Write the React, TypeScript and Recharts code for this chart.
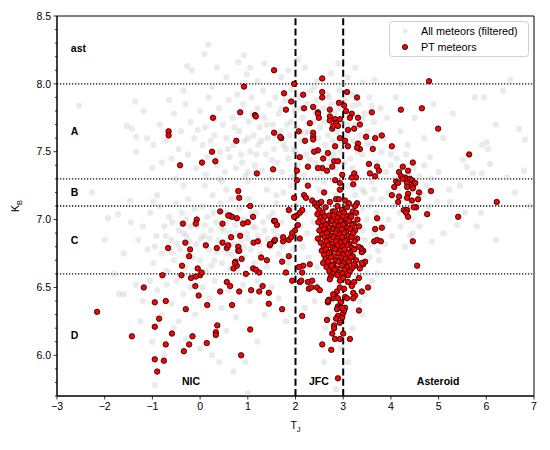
import React from 'react';
import { ScatterChart, Scatter, XAxis, YAxis, ReferenceLine, ReferenceArea, Legend } from 'recharts';

// grey background population (T_J, K_B)
const allMeteors: number[][] = [
  // sparse top
  [0.17, 8.29], [0.09, 8.22], [-0.27, 8.13], [-0.17, 8.1], [0.8, 8.16], [0.92, 8.21], [0.98, 8.07], [1.35, 8.15],
  [1.7, 8.05], [2.2, 8.12], [2.45, 8.02], [2.75, 8.08], [3.1, 8.05], [3.25, 8.12], [3.4, 8.01], [3.65, 8.03],
  [1.2, 8.02], [0.55, 8.05], [0.35, 8.12], [2.05, 8.18], [2.9, 8.15], [4.2, 8.0], [6.5, 8.03], [-2.54, 7.84],
  [1.85, 8.1], [1.05, 8.12],
  // cloud A, left part
  [-1.36, 7.87], [-1.18, 7.8], [-1.53, 7.69], [-1.43, 7.67], [-1.34, 7.61], [-1.11, 7.6], [-1.34, 7.5], [-0.98, 7.55],
  [-0.85, 7.7], [-0.72, 7.58], [-0.6, 7.45], [-0.55, 7.78], [-0.45, 7.52], [-0.4, 7.65], [-0.3, 7.85], [-0.25, 7.48],
  [-0.2, 7.72], [-0.12, 7.6], [-0.08, 7.38], [0.0, 7.8], [0.05, 7.55], [0.1, 7.68], [0.12, 7.33], [0.18, 7.9],
  [0.22, 7.58], [0.3, 7.62], [0.35, 7.4], [0.4, 7.82], [0.42, 7.5], [0.48, 7.7], [0.52, 7.35], [0.55, 7.6],
  [0.6, 7.88], [0.62, 7.46], [0.68, 7.75], [0.7, 7.55], [0.75, 7.38], [0.78, 7.92], [0.82, 7.65], [0.86, 7.48],
  [0.9, 7.85], [0.93, 7.58], [0.95, 7.32], [-0.8, 7.42], [-1.0, 7.38], [-0.5, 7.3], [-0.35, 7.95], [0.25, 7.98],
  [-0.65, 7.88], [0.45, 7.28],
  // cloud A, right part
  [1.02, 7.72], [1.05, 7.5], [1.08, 7.9], [1.12, 7.62], [1.15, 7.4], [1.2, 7.82], [1.22, 7.55], [1.25, 7.68],
  [1.3, 7.36], [1.32, 7.95], [1.35, 7.75], [1.38, 7.48], [1.42, 7.6], [1.45, 7.85], [1.48, 7.3], [1.52, 7.7],
  [1.55, 7.52], [1.58, 7.9], [1.62, 7.42], [1.65, 7.78], [1.68, 7.65], [1.72, 7.35], [1.75, 7.55], [1.78, 7.88],
  [1.82, 7.7], [1.85, 7.45], [1.88, 7.62], [1.92, 7.96], [1.95, 7.52], [1.98, 7.8], [2.02, 7.68], [2.05, 7.4],
  [2.08, 7.9], [2.12, 7.58], [2.15, 7.75], [2.18, 7.33], [2.22, 7.48], [2.25, 7.85], [2.28, 7.65], [2.32, 7.95],
  [2.35, 7.52], [2.38, 7.72], [2.42, 7.42], [2.45, 7.88], [2.48, 7.6], [2.52, 7.68], [2.55, 7.35], [2.58, 7.82],
  [2.62, 7.55], [2.65, 7.92], [2.68, 7.62], [2.72, 7.45], [2.75, 7.85], [2.78, 7.58], [2.82, 7.78], [2.85, 7.38],
  [2.88, 7.65], [2.92, 7.95], [2.95, 7.5], [2.98, 7.72], [3.02, 7.42], [3.05, 7.88], [3.08, 7.62], [3.12, 7.78],
  [3.15, 7.45], [3.18, 7.92], [3.22, 7.58], [3.25, 7.7], [3.28, 7.35], [3.32, 7.85], [3.35, 7.62], [3.4, 7.48],
  [3.45, 7.78], [3.5, 7.65], [3.55, 7.9], [3.6, 7.55], [3.65, 7.72], [3.7, 7.42], [3.78, 7.82], [3.85, 7.6],
  [3.92, 7.75], [4.0, 7.48], [4.1, 7.9], [4.2, 7.65], [4.35, 7.55], [4.5, 7.75], [1.4, 7.22], [1.6, 7.18],
  [1.9, 7.25], [2.15, 7.2], [2.6, 7.28], [3.1, 7.25], [3.4, 7.22], [3.6, 7.28], [2.4, 7.98], [3.0, 8.0],
  // cloud A, extra fill
  [0.58, 7.52], [0.72, 7.68], [0.88, 7.42], [1.0, 7.6], [1.1, 7.78], [1.18, 7.48], [1.28, 7.58], [1.4, 7.7],
  [1.5, 7.44], [1.6, 7.62], [1.7, 7.82], [1.8, 7.52], [1.9, 7.72], [2.0, 7.5], [2.1, 7.82], [2.2, 7.64],
  [2.3, 7.44], [2.4, 7.8], [2.5, 7.5], [2.6, 7.72], [2.7, 7.9], [2.8, 7.48], [2.9, 7.82], [3.0, 7.56],
  [3.1, 7.7], [3.2, 7.84], [3.3, 7.5], [3.4, 7.74], [3.5, 7.56], [3.6, 7.84], [3.7, 7.62], [3.8, 7.5],
  [0.3, 7.74], [0.15, 7.46], [-0.05, 7.66], [0.4, 7.3], [1.0, 7.35], [1.95, 7.32], [2.45, 7.3], [3.2, 7.38],
  // right-hand scatter
  [5.76, 7.9], [5.95, 7.9], [6.69, 7.67], [5.91, 7.55], [6.04, 7.52], [6.01, 7.57], [6.81, 7.59], [6.79, 7.36],
  [6.43, 7.31], [5.91, 7.34], [5.72, 7.34], [5.59, 7.39], [5.24, 7.13], [5.22, 7.22], [4.97, 7.13], [5.89, 7.05],
  [6.08, 7.41], [5.51, 7.44], [4.82, 7.46], [5.1, 7.6], [5.3, 7.78], [4.7, 7.6], [5.45, 7.25], [6.2, 7.7],
  [6.6, 7.2], [5.0, 7.35], [4.9, 7.85], [6.35, 7.95], [5.55, 7.05], [6.9, 7.1], [5.8, 6.95], [5.39, 6.96],
  [6.2, 6.85], [4.86, 6.84], [5.1, 6.9],
  // asteroid cluster
  [3.9, 7.35], [3.95, 7.2], [4.0, 7.4], [4.05, 7.1], [4.08, 7.3], [4.12, 7.45], [4.15, 7.22], [4.18, 7.05],
  [4.22, 7.38], [4.25, 7.15], [4.28, 7.28], [4.32, 7.48], [4.35, 7.1], [4.38, 7.33], [4.42, 7.2], [4.45, 7.0],
  [4.48, 7.38], [4.52, 7.25], [4.55, 7.12], [4.6, 7.32], [4.65, 7.18], [4.7, 7.4], [4.75, 7.25], [4.8, 7.1],
  [4.02, 6.88], [4.4, 6.88], [4.46, 6.9], [3.88, 6.82], [3.73, 6.77], [4.2, 6.95], [4.6, 6.95], [3.95, 7.0],
  [4.3, 6.8], [4.85, 7.3],
  // JFC cloud
  [2.05, 7.12], [2.1, 6.95], [2.15, 6.8], [2.2, 7.05], [2.25, 6.9], [2.28, 6.72], [2.32, 7.15], [2.38, 6.98],
  [2.42, 6.85], [2.45, 6.65], [2.5, 7.22], [2.55, 6.92], [2.6, 6.78], [2.65, 7.1], [2.7, 6.68], [2.75, 7.02],
  [2.8, 6.85], [2.85, 7.18], [2.9, 6.72], [2.95, 6.95], [3.0, 7.1], [3.05, 6.82], [3.1, 6.65], [3.15, 7.0],
  [3.2, 6.88], [3.25, 7.18], [3.3, 6.75], [3.35, 6.95], [3.4, 7.08], [3.45, 6.85], [3.5, 7.0], [3.55, 6.72],
  [3.6, 7.15], [3.65, 6.9], [3.7, 7.05], [3.75, 6.7], [3.8, 7.15], [3.85, 6.95], [3.5, 6.6], [3.6, 6.55],
  [3.3, 6.55], [3.45, 6.45], [2.7, 6.28], [2.62, 6.2], [2.4, 6.4], [2.2, 6.35], [3.4, 6.3], [3.2, 6.2],
  [2.95, 6.05], [3.1, 5.95], [2.6, 5.95], [2.85, 5.75],
  [3.45, 7.2], [3.55, 7.1], [3.65, 7.22], [3.75, 7.0], [3.42, 6.92], [3.58, 6.82], [3.7, 6.6], [3.35, 6.4],
  // NIC cloud
  [-1.2, 6.95], [-1.1, 6.78], [-1.05, 7.05], [-0.98, 6.68], [-0.92, 6.88], [-0.85, 7.1], [-0.8, 6.75], [-0.75, 6.95],
  [-0.7, 6.62], [-0.65, 7.02], [-0.6, 6.85], [-0.55, 6.7], [-0.5, 7.12], [-0.45, 6.92], [-0.42, 6.78], [-0.38, 7.05],
  [-0.32, 6.65], [-0.28, 6.88], [-0.25, 7.15], [-0.2, 6.95], [-0.15, 6.72], [-0.12, 7.08], [-0.08, 6.82], [-0.05, 6.95],
  [0.0, 6.7], [0.05, 7.1], [0.08, 6.88], [0.12, 6.62], [0.15, 7.02], [0.18, 6.78], [0.22, 6.92], [0.26, 7.18],
  [0.3, 6.7], [0.34, 6.98], [0.38, 6.85], [0.42, 7.12], [0.46, 6.68], [0.5, 6.92], [0.54, 7.05], [0.58, 6.75],
  [0.62, 6.9], [0.66, 7.15], [0.7, 6.82], [0.74, 6.96], [0.78, 6.62], [0.82, 7.08], [0.86, 6.85], [0.9, 6.72],
  [0.94, 7.0], [0.98, 6.9], [1.02, 7.15], [1.06, 6.78], [1.1, 6.95], [1.14, 6.68], [1.18, 7.05], [1.22, 6.88],
  [1.26, 6.75], [1.3, 7.1], [1.35, 6.92], [1.4, 6.65], [1.45, 7.02], [1.5, 6.8], [1.55, 6.92], [1.6, 7.12],
  [1.65, 6.75], [1.7, 6.98], [1.75, 7.2], [1.8, 6.85], [1.85, 6.68], [1.9, 7.05], [1.95, 6.78], [-0.35, 7.25],
  [0.1, 7.25], [0.55, 7.22], [1.0, 7.28], [-0.9, 7.18], [-1.3, 6.85], [-1.45, 6.98], [-1.6, 6.75], [-1.72, 7.04],
  [-1.93, 7.01], [-2.27, 7.2], [-1.47, 7.14], [-0.98, 7.13], [-1.8, 6.6], [-2.0, 6.85],
  // NIC cloud, extra fill
  [-0.95, 6.8], [-0.72, 6.88], [-0.58, 6.98], [-0.48, 6.82], [-0.35, 6.9], [-0.22, 6.84], [-0.1, 6.98], [0.02, 6.86],
  [0.1, 6.96], [0.2, 6.86], [0.28, 7.05], [0.36, 6.76], [0.44, 6.94], [0.52, 6.84], [0.6, 7.0], [0.68, 6.74],
  [0.76, 6.9], [0.84, 7.0], [0.92, 6.8], [1.0, 6.86], [1.08, 7.05], [1.16, 6.94], [1.24, 6.82], [1.32, 6.98],
  [1.42, 6.86], [1.52, 7.05], [1.62, 6.88], [1.72, 6.8], [-0.6, 6.76], [-0.3, 7.0], [0.24, 6.66], [0.64, 6.64],
  // below K_B = 6.6
  [-1.6, 6.45], [-1.35, 6.52], [-1.2, 6.4], [-1.05, 6.55], [-0.9, 6.48], [-0.8, 6.3], [-0.7, 6.52], [-0.6, 6.38],
  [-0.5, 6.55], [-0.45, 6.25], [-0.35, 6.45], [-0.2, 6.5], [-0.1, 6.3], [0.05, 6.5], [0.2, 6.42], [0.3, 6.55],
  [0.45, 6.35], [0.6, 6.48], [0.75, 6.28], [0.9, 6.52], [1.05, 6.4], [1.2, 6.55], [1.35, 6.3], [1.5, 6.5],
  [1.65, 6.42], [1.8, 6.25], [-1.0, 6.1], [-0.75, 6.0], [-0.55, 6.2], [-0.3, 6.12], [0.0, 6.05], [0.25, 6.0],
  [0.55, 6.18], [0.7, 5.88], [0.95, 5.95], [1.2, 6.1], [-0.95, 5.78], [-1.25, 6.25], [-1.7, 6.45], [0.4, 5.95],
  [1.0, 5.72],
];

// red PT meteors (T_J, K_B)
const ptMeteors: number[][] = [
  // upper left
  [1.55, 8.1], [0.92, 7.98], [0.84, 7.79], [0.27, 7.75], [1.15, 7.77], [1.17, 7.76], [-0.66, 7.65], [-0.66, 7.62],
  [1.55, 7.64], [0.76, 7.58], [0.25, 7.5], [0.32, 7.43], [-0.42, 7.4], [0.04, 7.42], [1.19, 7.34], [1.53, 7.37],
  [0.8, 7.21], [0.82, 7.16], [1.05, 7.1], [0.42, 7.06], [0.62, 7.03], [0.67, 7.02], [0.77, 7.01], [1.11, 7.02],
  [-0.36, 6.97], [-0.07, 7.0], [-0.09, 6.97], [0.47, 6.97], [0.9, 6.97], [1.0, 6.98], [1.55, 6.99], [0.59, 7.03],
  // NIC
  [-0.67, 6.79], [-0.31, 6.83], [-0.21, 6.78], [-0.23, 6.73], [0.12, 6.81], [0.35, 6.79], [0.47, 6.83], [0.56, 6.79],
  [0.59, 6.81], [0.65, 6.87], [0.8, 6.8], [0.8, 6.77], [0.84, 6.88], [1.12, 6.83], [1.21, 6.84], [1.46, 6.81],
  [1.55, 6.84], [-0.38, 6.66], [-0.05, 6.64], [0.0, 6.59], [0.03, 6.61], [-0.09, 6.58], [-0.19, 6.57], [-0.39, 6.59],
  [-0.79, 6.59], [0.7, 6.64], [0.77, 6.66], [0.74, 6.69], [0.87, 6.71], [0.96, 6.6], [1.11, 6.64], [1.17, 6.63],
  [1.24, 6.61], [1.28, 6.72], [1.4, 6.7], [-1.18, 6.5], [-0.1, 6.51], [-0.03, 6.44], [-0.3, 6.34], [0.15, 6.37],
  [0.42, 6.47], [0.56, 6.54], [0.63, 6.51], [0.67, 6.37], [0.82, 6.47], [1.07, 6.48], [1.24, 6.47], [1.31, 6.51],
  [1.44, 6.46], [1.44, 6.38], [-0.95, 6.39], [-0.72, 6.4], [-2.16, 6.32], [-0.86, 6.27], [-0.95, 6.21], [-0.59, 6.16],
  [-1.43, 6.14], [-0.16, 6.14], [0.36, 6.22], [0.33, 6.17], [0.33, 6.15], [0.14, 6.09], [-0.72, 6.08], [-0.23, 6.08],
  [-0.34, 6.03], [-0.95, 5.97], [-0.76, 5.96], [-0.9, 5.88], [0.86, 6.0], [1.05, 6.19], [0.73, 6.68], [0.82, 6.77],
  // JFC upper
  [1.97, 8.0], [2.56, 8.04], [1.76, 7.93], [2.16, 7.92], [2.56, 7.94], [2.56, 7.9], [3.08, 7.94], [3.29, 7.9],
  [1.91, 7.87], [1.8, 7.81], [2.18, 7.82], [2.37, 7.83], [2.47, 7.79], [2.47, 7.78], [2.49, 7.75], [2.72, 7.81],
  [2.91, 7.86], [3.02, 7.84], [3.06, 7.8], [3.18, 7.78], [3.14, 7.75], [3.31, 7.75], [3.35, 7.7], [3.6, 7.79],
  [2.72, 7.76], [2.72, 7.73], [2.83, 7.74], [2.85, 7.71], [2.93, 7.74], [2.89, 7.69], [2.77, 7.67], [2.79, 7.69],
  [3.1, 7.66], [3.23, 7.67], [2.3, 7.71], [2.07, 7.65], [2.37, 7.64], [2.37, 7.61], [2.37, 7.59], [2.2, 7.58],
  [2.47, 7.51], [2.39, 7.5], [1.7, 7.6], [2.93, 7.6], [3.04, 7.58], [3.48, 7.61], [3.67, 7.6], [3.31, 7.56],
  [3.35, 7.52], [3.29, 7.53], [3.1, 7.54], [2.83, 7.54], [2.68, 7.49], [2.58, 7.45], [2.81, 7.43], [2.77, 7.39],
  [2.66, 7.36], [2.56, 7.38], [2.47, 7.38], [2.89, 7.43], [2.26, 7.39], [2.09, 7.46], [3.62, 7.52], [3.54, 7.41],
  [3.71, 7.39], [3.75, 7.36], [3.67, 7.32], [3.56, 7.34], [2.03, 7.36], [3.23, 7.34], [3.27, 7.31], [3.18, 7.31],
  [2.03, 7.29], [2.26, 7.25], [2.83, 7.29], [2.93, 7.27], [2.98, 7.33], [3.21, 7.26],
  // asteroid side
  [4.8, 8.02], [4.21, 7.81], [4.65, 7.82], [4.99, 7.67], [4.02, 7.54], [3.81, 7.62], [5.64, 7.48], [4.25, 7.39],
  [4.46, 7.42], [4.36, 7.36], [4.17, 7.35], [4.21, 7.32], [4.3, 7.31], [4.25, 7.3], [4.34, 7.29], [4.4, 7.3],
  [4.44, 7.29], [4.48, 7.27], [4.34, 7.27], [4.11, 7.28], [4.15, 7.27], [4.07, 7.24], [4.46, 7.25], [4.51, 7.27],
  [4.46, 7.23], [4.34, 7.24], [4.59, 7.2], [4.84, 7.21], [4.36, 7.19], [4.34, 7.16], [4.17, 7.17], [4.15, 7.13],
  [4.02, 7.18], [4.57, 7.15], [4.44, 7.14], [4.53, 7.09], [4.48, 7.09], [6.22, 7.13], [4.27, 7.07], [4.34, 7.07],
  [4.32, 7.05], [4.36, 7.02], [4.76, 7.04], [5.41, 7.02], [4.46, 6.84], [4.55, 6.66],
  // JFC middle, outside the core
  [2.6, 7.2], [2.93, 7.22], [1.97, 7.16], [2.18, 7.18], [2.22, 7.16], [2.35, 7.14], [2.41, 7.12], [2.45, 7.1],
  [2.49, 7.12], [2.54, 7.13], [2.72, 7.13], [2.85, 7.15], [2.91, 7.15], [3.04, 7.14], [3.12, 7.12], [3.29, 7.12],
  [3.25, 7.1], [1.57, 6.99], [1.61, 6.96], [2.03, 7.03], [2.09, 7.05], [2.14, 7.07], [1.97, 7.02], [2.05, 6.96],
  [1.99, 6.92], [1.93, 6.9], [1.86, 6.85], [1.91, 6.87], [1.74, 6.84], [1.74, 6.87], [1.57, 6.85], [1.47, 6.82],
  [2.09, 6.86], [1.86, 6.73], [1.72, 6.69], [2.3, 6.67], [2.16, 6.66], [2.07, 6.65], [1.8, 6.61], [1.93, 6.55],
  [2.09, 6.54], [2.26, 6.54], [2.35, 6.55], [2.28, 6.49], [2.33, 6.5], [2.45, 6.5], [2.51, 6.48], [2.12, 6.55],
  [2.14, 6.61], [1.86, 7.07], [1.68, 7.61], [3.67, 6.93], [3.71, 7.01], [3.65, 6.84], [3.71, 6.85], [3.79, 6.84],
  [3.81, 6.94], [3.42, 6.77], [3.39, 6.76], [3.37, 6.79], [3.42, 6.67], [3.46, 6.69], [3.35, 6.64], [3.25, 6.66],
  [3.39, 6.68], [3.33, 6.57],
  // JFC core
  [2.5, 7.07], [2.63, 7.09], [2.78, 7.06], [2.88, 7.1], [2.97, 7.07], [3.08, 7.09], [3.2, 7.06],
  [2.46, 7.04], [2.57, 7.05], [2.7, 7.03], [2.83, 7.06], [2.92, 7.04], [3.02, 7.05], [3.13, 7.03], [3.27, 7.05],
  [2.52, 7.01], [2.61, 7.02], [2.74, 7.0], [2.8, 7.03], [2.89, 7.01], [2.99, 7.02], [3.07, 7.0], [3.17, 7.02], [3.3, 7.0],
  [2.48, 6.98], [2.58, 6.99], [2.67, 6.97], [2.77, 6.99], [2.86, 6.98], [2.95, 6.99], [3.04, 6.97], [3.12, 6.99], [3.22, 6.97],
  [2.55, 6.95], [2.64, 6.96], [2.72, 6.94], [2.82, 6.96], [2.91, 6.95], [3.0, 6.96], [3.09, 6.94], [3.19, 6.96], [3.33, 6.95],
  [2.5, 6.92], [2.6, 6.93], [2.69, 6.91], [2.79, 6.93], [2.87, 6.92], [2.97, 6.93], [3.06, 6.91], [3.15, 6.93], [3.25, 6.92],
  [2.56, 6.89], [2.66, 6.9], [2.75, 6.88], [2.84, 6.9], [2.93, 6.89], [3.02, 6.9], [3.11, 6.88], [3.21, 6.9],
  [2.47, 6.86], [2.61, 6.87], [2.71, 6.85], [2.8, 6.87], [2.89, 6.86], [2.98, 6.87], [3.08, 6.85], [3.17, 6.87], [3.29, 6.86],
  [2.53, 6.83], [2.65, 6.84], [2.76, 6.82], [2.85, 6.84], [2.94, 6.83], [3.04, 6.84], [3.13, 6.82], [3.24, 6.84],
  [2.59, 6.8], [2.69, 6.81], [2.79, 6.79], [2.88, 6.81], [2.99, 6.8], [3.09, 6.81], [3.19, 6.79], [3.32, 6.8],
  [2.55, 6.77], [2.64, 6.78], [2.73, 6.76], [2.83, 6.78], [2.93, 6.77], [3.03, 6.78], [3.14, 6.76], [3.23, 6.78],
  [2.6, 6.74], [2.7, 6.75], [2.8, 6.73], [2.9, 6.75], [2.99, 6.74], [3.1, 6.75], [3.2, 6.73],
  [2.63, 6.71], [2.74, 6.72], [2.85, 6.7], [2.95, 6.72], [3.05, 6.71], [3.16, 6.72], [3.27, 6.7],
  [2.58, 6.68], [2.68, 6.69], [2.79, 6.67], [2.9, 6.69], [3.01, 6.68], [3.12, 6.69], [3.22, 6.67],
  [2.65, 6.65], [2.76, 6.66], [2.86, 6.64], [2.97, 6.66], [3.08, 6.65], [3.18, 6.64],
  [2.71, 6.62], [2.82, 6.63], [2.93, 6.61], [3.03, 6.63], [3.14, 6.62],
  [2.78, 6.6], [2.88, 6.59], [2.99, 6.6], [3.1, 6.59],
  // tail below the core
  [2.74, 6.58], [2.72, 6.56], [2.93, 6.55], [3.0, 6.57], [3.1, 6.54], [3.23, 6.54], [3.18, 6.51], [2.93, 6.5],
  [2.87, 6.47], [3.02, 6.49], [2.83, 6.44], [2.79, 6.42], [2.7, 6.41], [2.89, 6.42], [3.04, 6.43], [3.08, 6.42],
  [2.95, 6.39], [2.89, 6.36], [2.93, 6.35], [3.04, 6.35], [1.72, 6.34], [3.33, 6.33], [3.25, 6.44], [3.21, 6.42],
  [3.21, 6.46], [3.39, 6.47], [3.52, 6.5], [2.14, 6.29], [2.66, 6.26], [2.68, 6.39], [2.68, 6.4], [2.79, 6.45],
  [2.87, 6.34], [2.89, 6.29], [2.85, 6.27], [2.81, 6.22], [2.81, 6.2], [2.93, 6.24], [2.98, 6.28], [3.0, 6.31],
  [3.02, 6.33], [2.98, 6.35], [2.77, 6.16], [2.83, 6.12], [2.93, 6.12], [3.0, 6.16], [3.14, 6.12], [2.56, 6.08],
  [2.75, 6.04], [2.89, 5.83],
];

const xTicks = [-3, -2, -1, 0, 1, 2, 3, 4, 5, 6, 7];
const yTicks = [
  5.7, 5.8, 5.9, 6.0, 6.1, 6.2, 6.3, 6.4, 6.5, 6.6, 6.7, 6.8, 6.9, 7.0, 7.1, 7.2, 7.3, 7.4, 7.5, 7.6,
  7.7, 7.8, 7.9, 8.0, 8.1, 8.2, 8.3, 8.4, 8.5,
];
const kbLimits = [8.0, 7.3, 7.1, 6.6];
const tjLimits = [2, 3];
const regionNames = ['ast', 'A', 'B', 'C', 'D', 'NIC', 'JFC', 'Asteroid'];
const regionX = [-2.71, -2.71, -2.71, -2.71, -2.71, -0.19, 2.49, 4.99];
const regionY = [8.26, 7.65, 7.2, 6.85, 6.15, 5.81, 5.81, 5.81];

const greyData = allMeteors.map(([x, y]) => ({ x, y }));
const redData = ptMeteors.map(([x, y]) => ({ x, y }));
const labelData = regionNames.map((text, i) => ({
  x: regionX[i],
  y: regionY[i],
  text,
  anchor: i < 5 ? 'start' : 'middle',
}));

const FONT = '"Liberation Sans", Arial, sans-serif';
const GREY = '#b8b8b8';

const GreyDot = (p: any) => <circle cx={p.cx} cy={p.cy} r={3.1} fill={GREY} fillOpacity={0.3} />;
const RedDot = (p: any) => (
  <circle cx={p.cx} cy={p.cy} r={2.75} fill="#ff0000" stroke="#000" strokeWidth={0.75} />
);
const RegionText = (p: any) => (
  <text x={p.cx} y={p.cy} dy="0.35em" textAnchor={p.payload.anchor} fontSize={10.5}
    fontWeight="bold" fill="#000" fontFamily={FONT}>
    {p.payload.text}
  </text>
);

const minus = (v: number) => (v < 0 ? '\u2212' + Math.abs(v) : String(v));

const YTick = (p: any) => {
  const v = p.payload.value;
  const major = Math.abs(v * 2 - Math.round(v * 2)) < 1e-6;
  return (
    <g>
      <line x1={p.x} x2={p.x - (major ? 3.5 : 2)} y1={p.y} y2={p.y} stroke="#000" strokeWidth={0.8} />
      {major && (
        <text x={p.x - 6} y={p.y} dy="0.35em" textAnchor="end" fontSize={10.5} fill="#000" fontFamily={FONT}>
          {v.toFixed(1)}
        </text>
      )}
    </g>
  );
};

const LegendBox = () => (
  <svg width={140} height={36} style={{ display: 'block' }}>
    <rect x={0.5} y={0.5} width={139} height={35} rx={3} fill="#fff" fillOpacity={0.8} stroke="#d0d0d0" />
    <circle cx={16} cy={10} r={2.6} fill={GREY} fillOpacity={0.3} />
    <text x={32} y={10} dy="0.35em" fontSize={10.8} fill="#000" fontFamily={FONT}>All meteors (filtered)</text>
    <circle cx={16} cy={26} r={2.6} fill="#ff0000" stroke="#000" strokeWidth={0.75} />
    <text x={32} y={26} dy="0.35em" fontSize={10.8} fill="#000" fontFamily={FONT}>PT meteors</text>
  </svg>
);

export default function App() {
  return (
    <div style={{ position: 'absolute', left: 0, top: 0, width: 550, height: 450, background: '#fff' }}>
      <ScatterChart width={550} height={450} margin={{ top: 16, right: 16, bottom: 14, left: 12 }}>
        <XAxis
          type="number"
          dataKey="x"
          domain={[-3, 7]}
          ticks={xTicks}
          interval={0}
          allowDataOverflow
          tickFormatter={minus}
          height={40}
          tickSize={3.5}
          tickMargin={3}
          axisLine={{ stroke: '#000', strokeWidth: 1 }}
          tickLine={{ stroke: '#000', strokeWidth: 0.8 }}
          tick={{ fontSize: 10.5, fill: '#000', fontFamily: FONT }}
          label={{
            content: (props: any) => {
              const vb = props.viewBox;
              return (
                <text x={vb.x + vb.width / 2} y={vb.y + 33} textAnchor="middle" fontSize={10.5}
                  fill="#000" fontFamily={FONT}>
                  T<tspan fontSize={7.5} dy={2.5}>J</tspan>
                </text>
              );
            },
          }}
        />
        <YAxis
          type="number"
          dataKey="y"
          domain={[5.7, 8.5]}
          ticks={yTicks}
          interval={0}
          allowDataOverflow
          width={45}
          tickSize={0}
          tickMargin={0}
          tickLine={false}
          tick={<YTick />}
          axisLine={{ stroke: '#000', strokeWidth: 1 }}
          label={{
            content: (props: any) => {
              const vb = props.viewBox;
              const cy = vb.y + vb.height / 2;
              return (
                <text x={19} y={cy} transform={`rotate(-90 19 ${cy})`} textAnchor="middle" fontSize={10.5}
                  fill="#000" fontFamily={FONT}>
                  K<tspan fontSize={7.5} dy={2.5}>B</tspan>
                </text>
              );
            },
          }}
        />
        <Scatter name="All meteors (filtered)" data={greyData} shape={GreyDot} isAnimationActive={false} />
        {kbLimits.map((k) => (
          <ReferenceLine key={'k' + k} y={k} stroke="#111" strokeWidth={1.3} strokeDasharray="1.3 1.7" />
        ))}
        {tjLimits.map((t) => (
          <ReferenceLine key={'t' + t} x={t} stroke="#000" strokeWidth={2} strokeDasharray="7 3.3" />
        ))}
        <ReferenceArea x1={-3} x2={7} y1={5.7} y2={8.5} fill="none" stroke="#000" strokeWidth={1} />
        <Scatter name="PT meteors" data={redData} shape={RedDot} isAnimationActive={false} />
        <Scatter data={labelData} shape={RegionText} legendType="none" isAnimationActive={false} />
        <Legend
          layout="horizontal"
          verticalAlign="middle"
          align="center"
          content={() => <LegendBox />}
          wrapperStyle={{ left: 389, top: 21, width: 140, height: 36 }}
        />
      </ScatterChart>
    </div>
  );
}
